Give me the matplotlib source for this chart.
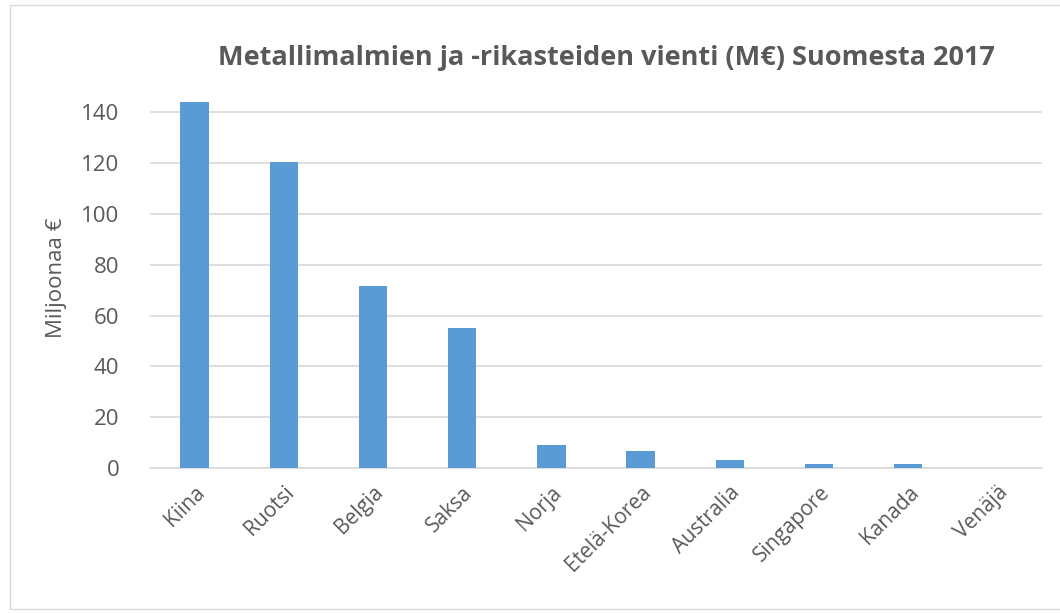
import matplotlib
matplotlib.use('Agg')
import matplotlib.pyplot as plt
from matplotlib.patches import Rectangle

# Vienti maittain (miljoonaa euroa)
maat = ['Kiina', 'Ruotsi', 'Belgia', 'Saksa', 'Norja', 'Etelä-Korea',
        'Australia', 'Singapore', 'Kanada', 'Venäjä']
vienti = [144.2, 120.5, 71.8, 55.2, 8.9, 6.8, 3.1, 1.7, 1.4, 0.1]
y_ticks = [0, 20, 40, 60, 80, 100, 120, 140]

plt.rcParams['font.family'] = ['Open Sans', 'DejaVu Sans']
gray = '#595959'

fig = plt.figure(figsize=(10.6, 6.14), dpi=100)
ax = fig.add_axes([0.1415, 0.2378, 0.8415, 0.6207])

x = range(len(maat))
ax.bar(x, vienti, width=0.32, color='#5b9bd5', zorder=3)

ax.set_xlim(-0.5, len(maat) - 0.5)
ax.set_ylim(0, 150)
ax.set_yticks(y_ticks)
ax.set_yticklabels([str(t) for t in y_ticks], fontsize=16, color=gray)
ax.set_xticks(list(x))
ax.set_xticklabels(maat, rotation=45, ha='right', rotation_mode='anchor',
                   fontsize=15, color=gray)
ax.tick_params(axis='y', length=0, pad=22)
ax.tick_params(axis='x', length=0, pad=10)
ax.grid(axis='y', color='#d9d9d9', linewidth=1.2, zorder=0)
for s in ['top', 'right', 'left']:
    ax.spines[s].set_visible(False)
ax.spines['bottom'].set_color('#d9d9d9')
ax.spines['bottom'].set_linewidth(1.2)

ax.set_ylabel('Miljoonaa €', fontsize=16, color=gray, labelpad=10)
fig.text(0.572, 0.905, 'Metallimalmien ja -rikasteiden vienti (M€) Suomesta 2017',
         ha='center', va='center', fontsize=19.5, fontweight='bold', color=gray)

# kehys kaavion ympärillä
fig.patches.append(Rectangle((0.009, 0.008), 0.998, 0.984, transform=fig.transFigure,
                             fill=False, edgecolor='#d9d9d9', linewidth=1))

fig.savefig('out.png', dpi=100)
